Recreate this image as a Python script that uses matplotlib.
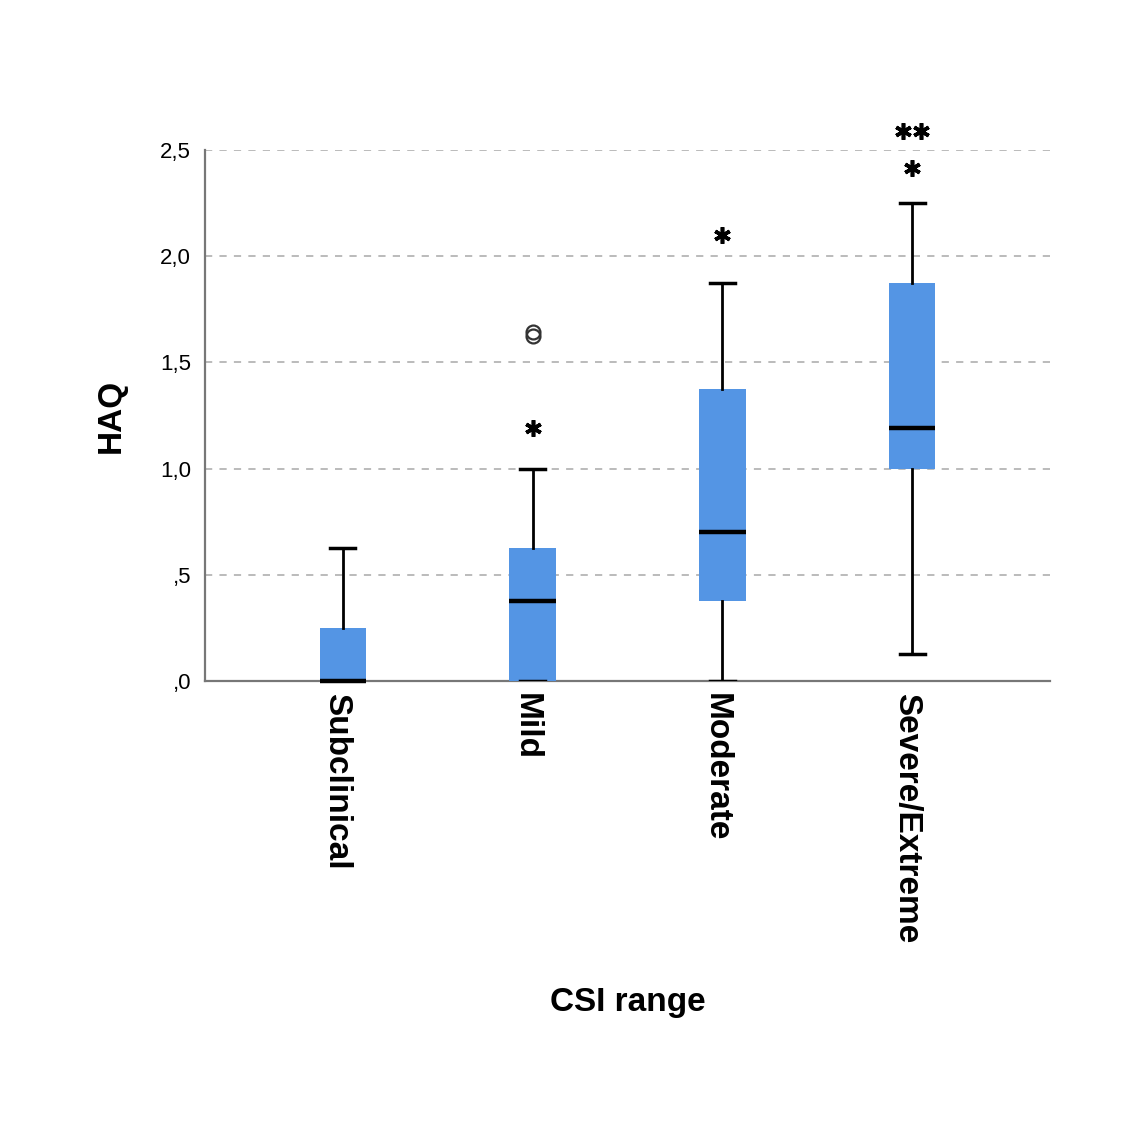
import matplotlib
matplotlib.use("Agg")
import matplotlib.pyplot as plt
import matplotlib.transforms as mtransforms

# CSI range groups and HAQ box statistics
categories = ["Subclinical", "Mild", "Moderate", "Severe/Extreme"]
q1 = [0.0, 0.0, 0.375, 1.0]
median = [0.0, 0.375, 0.70, 1.19]
q3 = [0.25, 0.625, 1.375, 1.875]
whisker_low = [0.0, 0.0, 0.0, 0.125]
whisker_high = [0.625, 1.0, 1.875, 2.25]

# outliers (circles) and extremes (stars)
outliers = [[], [1.625, 1.645], [], []]
extremes = [[], [1.19], [2.10], [2.415, 2.59, 2.59]]

box_color = "#5495e4"

plt.rcParams["font.family"] = ["Liberation Sans", "DejaVu Sans"]

fig = plt.figure(figsize=(11.34, 11.23), dpi=100)
ax = fig.add_axes([205 / 1134, 1 - 681 / 1123, 845 / 1134, 531 / 1123])

positions = list(range(1, len(categories) + 1))
stats = []
for i, name in enumerate(categories):
    stats.append({
        "label": name, "q1": q1[i], "med": median[i], "q3": q3[i],
        "whislo": whisker_low[i], "whishi": whisker_high[i], "fliers": [],
    })

bp = ax.bxp(stats, positions=positions, widths=0.245, patch_artist=True,
            showfliers=False,
            boxprops=dict(facecolor=box_color, edgecolor="none"),
            medianprops=dict(color="black", linewidth=3.2),
            whiskerprops=dict(color="black", linewidth=2),
            capprops=dict(color="black", linewidth=2.5),
            capwidths=0.13, zorder=3)
for line in bp["medians"]:
    line.set_clip_on(False)
    line.set_zorder(5)

for pos, vals in zip(positions, outliers):
    for v in vals:
        ax.plot(pos, v, marker="o", markersize=10, markerfacecolor="none",
                markeredgecolor="#333333", markeredgewidth=1.6,
                linestyle="none", clip_on=False, zorder=4)

for pos, vals in zip(positions, extremes):
    seen = {}
    for v in vals:
        seen[v] = seen.get(v, 0) + 1
    for v, n in seen.items():
        for k in range(n):
            dx = (k - (n - 1) / 2) * 0.095
            ax.plot(pos + dx, v, marker=(6, 2, 0), markersize=12,
                    markeredgewidth=2.6, color="black", linestyle="none",
                    clip_on=False, zorder=4)

ax.set_xlim(0.274, 4.726)
ax.set_ylim(0, 2.5)
ax.set_yticks([0, 0.5, 1.0, 1.5, 2.0, 2.5])
ax.set_yticklabels([",0", ",5", "1,0", "1,5", "2,0", "2,5"], fontsize=16)
ax.set_xticks(positions)
ax.set_xticklabels([])
ax.tick_params(length=0)
ax.tick_params(axis="y", pad=10)

# category labels, read top to bottom
shift = mtransforms.ScaledTranslation(-6 / 100, -12 / 100, fig.dpi_scale_trans)
for pos, name in zip(positions, categories):
    ax.text(pos, 0, name, rotation=-90, fontsize=24, fontweight="bold",
            ha="center", va="top", transform=ax.get_xaxis_transform() + shift)

for y in [0.5, 1.0, 1.5, 2.0, 2.5]:
    ax.axhline(y, color="#b5b5b5", linestyle=(0, (4, 4)), linewidth=1.3,
               zorder=1)

for side in ["top", "right"]:
    ax.spines[side].set_visible(False)
ax.spines["left"].set_color("#777777")
ax.spines["bottom"].set_color("#777777")
ax.spines["left"].set_linewidth(1.6)
ax.spines["bottom"].set_linewidth(1.6)

ax.set_xlabel("CSI range", fontsize=24, fontweight="bold")
ax.xaxis.set_label_coords(0.5, (681 - 987) / 531)
ax.set_ylabel("HAQ", fontsize=24, fontweight="bold")
ax.yaxis.set_label_coords((127 - 205) / 845, 0.5)

fig.savefig("out.png", dpi=100)
